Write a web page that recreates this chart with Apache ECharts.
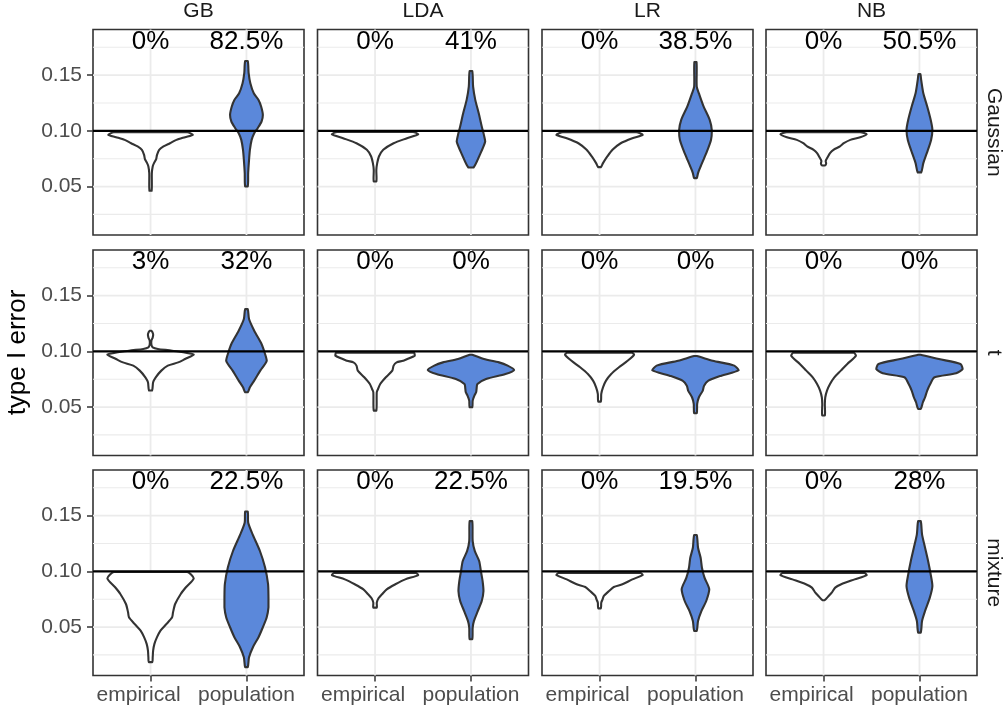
<!DOCTYPE html>
<html><head><meta charset="utf-8">
<script src="https://cdn.jsdelivr.net/npm/echarts@6/dist/echarts.min.js"></script>
<style>html,body{margin:0;padding:0;background:#fff}#c{width:1008px;height:715px}</style>
</head><body><div id="c"></div>
<script>
// ---------- data ----------
const methods = ['GB', 'LDA', 'LR', 'NB'];
const distributions = ['Gaussian', 't', 'mixture'];
const groups = ['empirical', 'population'];
const yTicks = [0.05, 0.10, 0.15];
const yMinorTicks = [0.025, 0.075, 0.125, 0.175];
const refLine = 0.10;
const labelLevel = 0.18;

// share of runs above the nominal level, per method: [empirical, population]
const pct_Gaussian = [['0%', '82.5%'], ['0%', '41%'], ['0%', '38.5%'], ['0%', '50.5%']];
const pct_t        = [['3%', '32%'],   ['0%', '0%'],  ['0%', '0%'],    ['0%', '0%']];
const pct_mixture  = [['0%', '22.5%'], ['0%', '22.5%'], ['0%', '19.5%'], ['0%', '28%']];

// violin profiles: [type I error, relative density (1 = widest in panel)], bottom -> top
const Gaussian_GB_empirical = [[0.0462,0.025],[0.062,0.03],[0.068,0.05],[0.071,0.08],[0.0746,0.13],[0.0785,0.15],[0.083,0.2],[0.086,0.3],[0.0889,0.45],[0.0919,0.6],[0.0943,0.8],[0.0964,0.98],[0.0988,0.85]];
const Gaussian_GB_population = [[0.0501,0.03],[0.0621,0.04],[0.074,0.06],[0.083,0.08],[0.0919,0.12],[0.0979,0.18],[0.1024,0.26],[0.1084,0.35],[0.1143,0.38],[0.1218,0.34],[0.1278,0.28],[0.1337,0.17],[0.1427,0.09],[0.152,0.05],[0.1627,0.03]];
const Gaussian_LDA_empirical = [[0.0546,0.03],[0.065,0.03],[0.071,0.05],[0.077,0.09],[0.083,0.19],[0.0889,0.43],[0.0934,0.74],[0.097,1.0],[0.099,0.88]];
const Gaussian_LDA_population = [[0.0671,0.06],[0.078,0.2],[0.0904,0.33],[0.0964,0.3],[0.1039,0.25],[0.1158,0.18],[0.1278,0.1],[0.1397,0.05],[0.1538,0.03]];
const Gaussian_LR_empirical = [[0.0674,0.03],[0.071,0.08],[0.077,0.18],[0.083,0.3],[0.0889,0.49],[0.0934,0.76],[0.0964,1.0],[0.0988,0.85]];
const Gaussian_LR_population = [[0.0576,0.03],[0.0621,0.06],[0.068,0.12],[0.080,0.25],[0.0919,0.36],[0.1003,0.38],[0.1099,0.33],[0.1218,0.19],[0.1337,0.08],[0.1397,0.03],[0.1617,0.025]];
const Gaussian_NB_empirical = [[0.0689,0.03],[0.0705,0.06],[0.073,0.05],[0.076,0.09],[0.080,0.15],[0.083,0.23],[0.086,0.38],[0.0889,0.47],[0.0919,0.62],[0.0943,0.85],[0.097,1.0],[0.0988,0.85]];
const Gaussian_NB_population = [[0.0627,0.04],[0.071,0.09],[0.080,0.17],[0.0919,0.27],[0.1009,0.3],[0.1099,0.26],[0.1218,0.18],[0.1337,0.09],[0.1457,0.04],[0.1511,0.02]];

const t_GB_empirical = [[0.0648,0.035],[0.0722,0.06],[0.0767,0.12],[0.0827,0.25],[0.0872,0.4],[0.0901,0.64],[0.0931,0.8],[0.097,1.0],[0.1006,0.5],[0.1021,0.17],[0.1036,0.05],[0.106,0.02],[0.1096,0.02],[0.1125,0.05],[0.1155,0.06],[0.1185,0.02]];
const t_GB_population = [[0.0633,0.03],[0.0677,0.08],[0.0737,0.18],[0.0827,0.32],[0.0916,0.47],[0.099,0.42],[0.1066,0.35],[0.1185,0.18],[0.129,0.06],[0.1379,0.03]];
const t_LDA_empirical = [[0.0468,0.03],[0.0633,0.04],[0.0662,0.07],[0.0707,0.12],[0.0767,0.25],[0.0827,0.4],[0.0872,0.43],[0.0901,0.5],[0.0916,0.65],[0.0961,0.92],[0.0988,0.9]];
const t_LDA_population = [[0.0498,0.03],[0.0558,0.04],[0.0603,0.08],[0.0633,0.12],[0.0662,0.13],[0.0707,0.15],[0.0752,0.35],[0.0797,0.8],[0.0833,1.0],[0.0872,0.85],[0.0901,0.65],[0.0931,0.3],[0.097,0.03]];
const t_LR_empirical = [[0.0549,0.03],[0.0618,0.04],[0.0677,0.08],[0.0737,0.15],[0.0797,0.27],[0.0857,0.45],[0.0916,0.65],[0.097,0.8],[0.0988,0.75]];
const t_LR_population = [[0.0444,0.03],[0.0528,0.04],[0.0588,0.08],[0.0648,0.17],[0.0692,0.2],[0.0737,0.3],[0.0782,0.6],[0.083,1.0],[0.0872,0.9],[0.0916,0.4],[0.0958,0.03]];
const t_NB_empirical = [[0.0424,0.03],[0.0528,0.03],[0.0588,0.04],[0.0648,0.08],[0.0707,0.15],[0.0767,0.25],[0.0827,0.4],[0.0887,0.55],[0.0961,0.75],[0.0988,0.7]];
const t_NB_population = [[0.0483,0.03],[0.0543,0.08],[0.0588,0.13],[0.0648,0.18],[0.0707,0.25],[0.0767,0.35],[0.0803,0.85],[0.0842,1.0],[0.0887,0.95],[0.0931,0.45],[0.097,0.03]];

const mixture_GB_empirical = [[0.0185,0.04],[0.0229,0.05],[0.0289,0.06],[0.0349,0.09],[0.0409,0.15],[0.0468,0.23],[0.0528,0.37],[0.0588,0.5],[0.063,0.52],[0.0707,0.57],[0.0797,0.7],[0.0857,0.82],[0.0937,1.0],[0.0994,0.85]];
const mixture_GB_population = [[0.014,0.03],[0.0229,0.06],[0.0319,0.15],[0.0409,0.28],[0.0498,0.38],[0.0588,0.47],[0.0677,0.51],[0.0767,0.51],[0.0887,0.5],[0.1036,0.43],[0.1185,0.31],[0.1335,0.14],[0.1439,0.04],[0.1538,0.03]];
const mixture_LDA_empirical = [[0.0674,0.04],[0.0719,0.04],[0.0758,0.08],[0.0794,0.16],[0.0839,0.27],[0.0884,0.47],[0.0928,0.7],[0.0967,1.0],[0.0985,0.95]];
const mixture_LDA_population = [[0.0391,0.03],[0.0495,0.04],[0.0555,0.07],[0.0645,0.16],[0.0734,0.25],[0.0824,0.29],[0.0913,0.27],[0.1003,0.23],[0.1093,0.19],[0.1182,0.09],[0.1272,0.04],[0.1451,0.03]];
const mixture_LR_empirical = [[0.0668,0.03],[0.0719,0.04],[0.0749,0.07],[0.0779,0.1],[0.0824,0.22],[0.086,0.33],[0.0884,0.53],[0.0928,0.76],[0.0967,1.0],[0.0985,0.95]];
const mixture_LR_population = [[0.0465,0.03],[0.0555,0.06],[0.0645,0.14],[0.0734,0.25],[0.0839,0.32],[0.0943,0.21],[0.1033,0.15],[0.1122,0.12],[0.1212,0.06],[0.1326,0.03]];
const mixture_NB_empirical = [[0.074,0.02],[0.0749,0.05],[0.0779,0.12],[0.0809,0.19],[0.0854,0.27],[0.0884,0.41],[0.0928,0.72],[0.0967,1.0],[0.0985,0.95]];
const mixture_NB_population = [[0.045,0.03],[0.0555,0.06],[0.0645,0.13],[0.0764,0.24],[0.0869,0.3],[0.0973,0.26],[0.1093,0.2],[0.1212,0.13],[0.1332,0.06],[0.1451,0.03]];

// ---------- assembly ----------
const profiles = [
  [[Gaussian_GB_empirical, Gaussian_GB_population], [Gaussian_LDA_empirical, Gaussian_LDA_population], [Gaussian_LR_empirical, Gaussian_LR_population], [Gaussian_NB_empirical, Gaussian_NB_population]],
  [[t_GB_empirical, t_GB_population], [t_LDA_empirical, t_LDA_population], [t_LR_empirical, t_LR_population], [t_NB_empirical, t_NB_population]],
  [[mixture_GB_empirical, mixture_GB_population], [mixture_LDA_empirical, mixture_LDA_population], [mixture_LR_empirical, mixture_LR_population], [mixture_NB_empirical, mixture_NB_population]]
];
const pcts = [pct_Gaussian, pct_t, pct_mixture];

const FONT = 'Liberation Sans, Arial, Helvetica, sans-serif';
const colLeft = [93, 317.5, 542, 766];
const rowTop = [29.5, 250, 470];
const PW = 211, PH = 205.5;
const X_MIN = 0.4, X_MAX = 2.6, Y_MIN = 0.0065, Y_MAX = 0.191;
const HALF = 0.45;
const fills = ['#ffffff', '#5b88da'];

const grids = [], xAxes = [], yAxes = [], series = [];
distributions.forEach((d, r) => {
  methods.forEach((m, c) => {
    const gi = grids.length;
    grids.push({left: colLeft[c], top: rowTop[r], width: PW, height: PH, show: true,
      borderColor: '#333333', borderWidth: 1.6, backgroundColor: '#ffffff'});
    xAxes.push({gridIndex: gi, type: 'value', min: X_MIN, max: X_MAX,
      axisLine: {show: false}, splitLine: {show: false},
      axisTick: {show: r === 2, customValues: [1, 2], length: 6, lineStyle: {color: '#333333', width: 1.5}},
      axisLabel: {show: r === 2, customValues: [1, 2],
        formatter: v => Math.round(v) === 1 ? '{e|' + groups[0] + '}' : '{p|' + groups[1] + '}',
        rich: {e: {fontSize: 21, color: '#4d4d4d', fontFamily: FONT, padding: [0, 24, 0, 0]},
               p: {fontSize: 21, color: '#4d4d4d', fontFamily: FONT}},
        fontSize: 21, color: '#4d4d4d', margin: 9, fontFamily: FONT}});
    yAxes.push({gridIndex: gi, type: 'value', min: Y_MIN, max: Y_MAX,
      axisLine: {show: false}, splitLine: {show: false},
      axisTick: {show: c === 0, customValues: yTicks, length: 6, lineStyle: {color: '#333333', width: 1.5}},
      axisLabel: {show: c === 0, customValues: yTicks, formatter: v => v.toFixed(2),
        fontSize: 21, color: '#4d4d4d', margin: 11, fontFamily: FONT}});

    // grid lines
    const gridData = yMinorTicks.map(v => [0, v]).concat(yTicks.map(v => [1, v])).concat([[2, 1], [2, 2]]);
    series.push({type: 'custom', xAxisIndex: gi, yAxisIndex: gi, z: 1, silent: true, data: gridData,
      renderItem: (p, api) => {
        const k = api.value(0), v = api.value(1);
        let a, b;
        if (k === 2) { a = api.coord([v, Y_MIN]); b = api.coord([v, Y_MAX]); }
        else { a = api.coord([X_MIN, v]); b = api.coord([X_MAX, v]); }
        return {type: 'line', shape: {x1: a[0], y1: a[1], x2: b[0], y2: b[1]},
          style: {stroke: '#ebebeb', lineWidth: k === 0 ? 1.1 : 1.8}};
      }});

    // violins
    const prof = profiles[r][c];
    series.push({type: 'custom', xAxisIndex: gi, yAxisIndex: gi, z: 2, silent: true,
      data: [[1, 0], [2, 1]],
      renderItem: (p, api) => {
        const x0 = api.value(0), g = api.value(1);
        const pr = prof[g];
        const right = pr.map(([v, w]) => api.coord([x0 + w * HALF, v]));
        const left = pr.slice().reverse().map(([v, w]) => api.coord([x0 - w * HALF, v]));
        const pts = right.concat(left);
        const mn = [Infinity, Infinity], mx = [-Infinity, -Infinity];
        pts.forEach(q => { mn[0] = Math.min(mn[0], q[0]); mn[1] = Math.min(mn[1], q[1]);
                           mx[0] = Math.max(mx[0], q[0]); mx[1] = Math.max(mx[1], q[1]); });
        return {type: 'polygon', shape: {points: pts, smooth: 0.25, smoothConstraint: [mn, mx]},
          style: {fill: fills[g], stroke: '#333333', lineWidth: 2.1, lineJoin: 'round'}};
      }});

    // reference line
    series.push({type: 'custom', xAxisIndex: gi, yAxisIndex: gi, z: 3, silent: true, data: [[refLine, 0]],
      renderItem: (p, api) => {
        const a = api.coord([X_MIN, api.value(0)]), b = api.coord([X_MAX, api.value(0)]);
        return {type: 'line', shape: {x1: a[0], y1: a[1], x2: b[0], y2: b[1]},
          style: {stroke: '#000000', lineWidth: 2.1}};
      }});

    // percentage labels
    const pc = pcts[r][c];
    series.push({type: 'custom', xAxisIndex: gi, yAxisIndex: gi, z: 4, silent: true,
      data: [[1, labelLevel, 0], [2, labelLevel, 1]],
      renderItem: (p, api) => {
        const pt = api.coord([api.value(0), api.value(1)]);
        return {type: 'text', x: pt[0], y: pt[1],
          style: {text: pc[api.value(2)], fontSize: 26, fontFamily: FONT, fill: '#000000',
            align: 'center', verticalAlign: 'middle'}};
      }});
  });
});

const graphics = [];
methods.forEach((m, c) => graphics.push({type: 'text', x: colLeft[c] + PW / 2, y: 11.5,
  style: {text: m, fontSize: 21, fontFamily: FONT, fill: '#1a1a1a', align: 'center', verticalAlign: 'middle'}}));
distributions.forEach((d, r) => graphics.push({type: 'text', x: 994, y: rowTop[r] + PH / 2, rotation: -Math.PI / 2,
  style: {text: d, fontSize: 21, fontFamily: FONT, fill: '#1a1a1a', align: 'center', verticalAlign: 'middle'}}));
graphics.push({type: 'text', x: 18, y: (rowTop[0] + rowTop[2] + PH) / 2, rotation: Math.PI / 2,
  style: {text: 'type I error', fontSize: 26, fontFamily: FONT, fill: '#000000', align: 'center', verticalAlign: 'middle'}});

const chart = echarts.init(document.getElementById('c'), null, {renderer: 'canvas'});
chart.setOption({animation: false, backgroundColor: '#ffffff',
  grid: grids, xAxis: xAxes, yAxis: yAxes, series: series, graphic: graphics});
</script></body></html>
